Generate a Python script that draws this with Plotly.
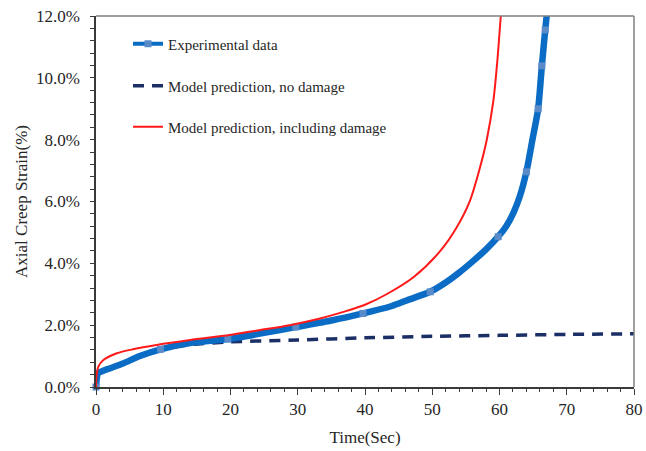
import plotly.graph_objects as go

# Experimental data (smooth line through readings)
exp_line_t = [0, 0.3, 1, 2, 4, 6.5, 9.6, 14, 19.6, 25, 29.7, 35, 39.7, 44, 46.2, 49.7, 52, 54, 56.1, 58, 59.8, 61, 62.1, 63, 64.0, 64.9, 65.75, 66.3, 66.8, 67.2]
exp_line_s = [0, 0.44, 0.52, 0.6, 0.76, 1.0, 1.22, 1.42, 1.55, 1.75, 1.94, 2.15, 2.38, 2.62, 2.8, 3.08, 3.38, 3.7, 4.08, 4.45, 4.86, 5.2, 5.65, 6.15, 6.96, 8.0, 9.0, 10.39, 11.55, 12.4]
# Experimental data points (markers)
exp_pts_t = [0, 9.6, 19.6, 29.7, 39.7, 49.7, 59.8, 64.0, 65.75, 66.3, 66.8]
exp_pts_s = [0, 1.22, 1.55, 1.94, 2.38, 3.08, 4.86, 6.96, 9.0, 10.39, 11.55]

# Model prediction, no damage
nd_t = [0, 0.3, 2, 5, 8, 10, 14, 20, 30, 40, 50, 60, 70, 80]
nd_s = [0, 0.44, 0.58, 0.84, 1.08, 1.22, 1.37, 1.46, 1.52, 1.59, 1.64, 1.67, 1.7, 1.72]

# Model prediction, including damage
dm_t = [0, 0.1, 0.35, 1.1, 3.1, 5.5, 9.0, 14, 19.9, 24, 28.8, 33, 36.8, 40, 43.2, 47.2, 51.2, 53.6, 55.6, 57.1, 58.1, 59.1, 59.7, 60.2, 60.5]
dm_s = [0, 0.4, 0.66, 0.87, 1.09, 1.22, 1.36, 1.52, 1.68, 1.83, 2.0, 2.2, 2.43, 2.66, 3.0, 3.55, 4.4, 5.15, 6.02, 7.1, 7.99, 9.28, 10.6, 12.0, 12.6]

names = ["Experimental data", "Model prediction, no damage", "Model prediction, including damage"]

BLUE = "#0A6CC4"
MBLUE = "#5A8BC9"
NAVY = "#1B2F66"
RED = "#FF1A1A"
FONT = "Liberation Serif"
TXT = "#262626"

fig = go.Figure()

fig.add_trace(go.Scatter(x=nd_t, y=nd_s, mode="lines", name=names[1],
                         line=dict(color=NAVY, width=3.5, dash="11px,8px", shape="spline", smoothing=0.6),
                         legend="legend2"))
fig.add_trace(go.Scatter(x=exp_line_t, y=exp_line_s, mode="lines",
                         line=dict(color=BLUE, width=6.5, shape="spline", smoothing=0.6),
                         showlegend=False, hoverinfo="skip"))
fig.add_trace(go.Scatter(x=exp_pts_t, y=exp_pts_s, mode="markers",
                         marker=dict(symbol="square", size=7, color=MBLUE),
                         showlegend=False, cliponaxis=False))
fig.add_trace(go.Scatter(x=dm_t, y=dm_s, mode="lines", name=names[2],
                         line=dict(color=RED, width=2, shape="spline", smoothing=0.8),
                         legend="legend3"))
# legend entry for experimental data (line + marker)
fig.add_trace(go.Scatter(x=[None], y=[None], mode="lines+markers", name=names[0],
                         line=dict(color=BLUE, width=4),
                         marker=dict(symbol="square", size=7, color=MBLUE),
                         legend="legend"))

L, R, T, B = 96, 12, 16, 64
H = 451 - T - B

def ly(py):
    return (451 - B - py) / H

leg_common = dict(font=dict(family=FONT, size=15, color=TXT), bgcolor="rgba(0,0,0,0)",
                  xanchor="left", yanchor="middle", x=(128 - L) / (646 - L - R))

fig.update_layout(
    width=646, height=451,
    margin=dict(l=L, r=R, t=T, b=B, autoexpand=False),
    paper_bgcolor="white", plot_bgcolor="white",
    font=dict(family=FONT, color=TXT),
    legend=dict(**leg_common, y=ly(44)),
    legend2=dict(**leg_common, y=ly(86)),
    legend3=dict(**leg_common, y=ly(127)),
    xaxis=dict(range=[0, 80], dtick=10, tick0=0, showgrid=False, zeroline=False, automargin=False,
               showline=True, linecolor="#3a3a3a", linewidth=1.5,
               ticks="outside", ticklen=6, tickwidth=1.2, tickcolor="#3a3a3a",
               minor=dict(dtick=2, ticks="outside", ticklen=3.5, tickwidth=1.2, tickcolor="#3a3a3a"),
               tickfont=dict(family=FONT, size=17, color=TXT),
               title=dict(text="Time(Sec)", font=dict(family=FONT, size=17, color=TXT), standoff=13)),
    yaxis=dict(range=[0, 12], dtick=2, tick0=0, showgrid=False, zeroline=False, automargin=False,
               showline=True, linecolor="#3a3a3a", linewidth=1.5,
               ticks="outside", ticklen=4, tickwidth=1.2, tickcolor="#3a3a3a",
               minor=dict(dtick=0.4, ticks="outside", ticklen=4, tickwidth=1.2, tickcolor="#3a3a3a"),
               tickformat=".1f", ticksuffix="%", ticklabelstandoff=7,
               tickfont=dict(family=FONT, size=17, color=TXT),
               title=dict(text="Axial Creep Strain(%)", font=dict(family=FONT, size=17, color=TXT), standoff=4)),
    shapes=[
        dict(type="line", xref="paper", yref="paper", x0=0, x1=1, y0=1, y1=1,
             line=dict(color="#808080", width=1.5)),
        dict(type="line", xref="paper", yref="paper", x0=1, x1=1, y0=0, y1=1,
             line=dict(color="#808080", width=1.5)),
    ],
)

fig.write_html("out.html", config={"displayModeBar": False},
               post_script="document.body.style.margin='0';document.body.style.padding='0';")
